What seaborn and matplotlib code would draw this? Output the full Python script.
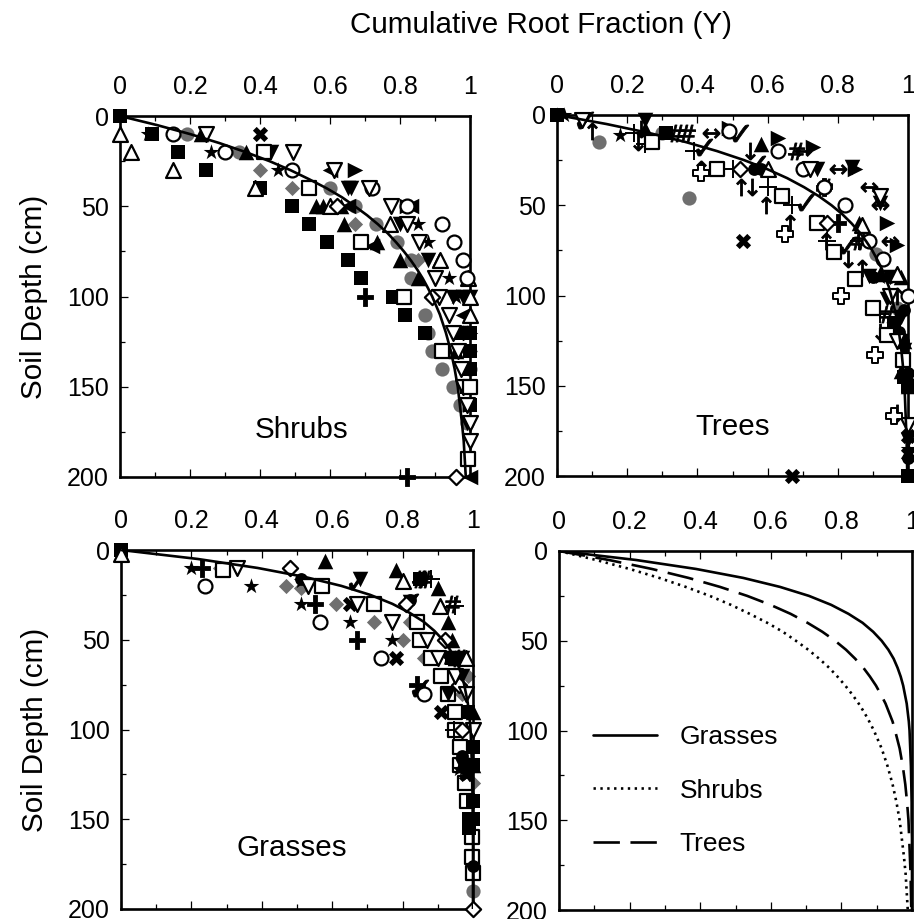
#!/usr/bin/env python3
"""
Cumulative root fraction vs soil depth, by vegetation type
"""

import matplotlib
matplotlib.use("Agg")
import matplotlib.pyplot as plt
from matplotlib.ticker import MultipleLocator, FixedLocator
import seaborn as sns

# fitted curves
CURVE_DEPTH = [0, 5, 10, 15, 20, 25, 30, 35, 40, 45, 50, 55, 60, 65, 70, 75, 80, 85, 90, 95, 100, 110, 120, 130, 140, 150, 160, 170, 180, 190, 200]
CURVE_GRASSES = [0, .218, .388, .522, .626, .708, .771, .82, .86, .89, .914, .933, .948, .959, .968, .975, .98, .985, .988, .991, .993, .995, .997, .998, .999, .999, 1, 1, 1, 1, 1]
CURVE_SHRUBS = [0, .105, .20, .284, .359, .427, .487, .54, .59, .634, .671, .706, .737, .765, .789, .811, .831, .849, .865, .879, .892, .914, .931, .945, .956, .965, .971, .977, .982, .985, .988]
CURVE_TREES = [0, .141, .263, .367, .456, .533, .599, .656, .704, .746, .782, .813, .839, .862, .881, .898, .912, .925, .935, .945, .952, .965, .974, .981, .986, .99, .992, .994, .996, .997, .998]

# observed points as (fraction, depth)
SHRUB_FILLED_SQUARE = [(0, 0), (.09, 10), (.165, 20), (.245, 30), (.40, 40), (.49, 50), (.54, 60), (.59, 70),
                       (.65, 80), (.69, 90), (.78, 100), (.815, 110), (.87, 120), (.97, 120), (.99, 120), (1, 120),
                       (1, 140), (1, 150), (.99, 150), (1, 160), (1, 130)]
SHRUB_OPEN_UP = [(0, 10), (.03, 20), (.15, 30), (.385, 40), (.60, 50), (.77, 60), (.915, 80), (.995, 90), (1, 100), (1, 110)]
SHRUB_OPEN_CIRCLE = [(.15, 10), (.30, 20), (.49, 30), (.72, 40), (.82, 50), (.92, 60), (.955, 70), (.98, 80), (.99, 90)]
SHRUB_GRAY_CIRCLE = [(.19, 10), (.34, 20), (.49, 30), (.60, 40), (.67, 50), (.73, 60), (.79, 70), (.83, 80), (.83, 90),
                     (.87, 110), (.88, 120), (.89, 130), (.92, 140), (.95, 150), (.97, 160), (.99, 170), (1, 140)]
SHRUB_OPEN_DOWN = [(.245, 10), (.495, 20), (.61, 30), (.71, 40), (.775, 50), (.82, 60), (.855, 70), (.90, 90), (.91, 100),
                   (.94, 110), (.95, 120), (.965, 130), (.975, 140), (.98, 150), (.99, 160), (1, 170), (1, 180)]
SHRUB_STAR = [(.08, 10), (.26, 20), (.45, 30), (.85, 60), (.88, 70), (.94, 90), (.96, 100), (.99, 120), (.98, 120)]
SHRUB_LEFT = [(.60, 30), (.65, 50), (.72, 72), (.83, 50), (1, 200), (.98, 110)]
SHRUB_RIGHT = [(.67, 30), (.82, 50), (1, 120)]
SHRUB_FILLED_UP = [(.23, 10), (.36, 20), (.56, 50), (.64, 60), (.735, 70), (.80, 80), (.85, 90), (.91, 80),
                   (.96, 130), (1, 110), (.58, 50), (.63, 50)]
SHRUB_FILLED_DOWN = [(.43, 20), (.66, 40), (.80, 60), (.88, 80), (.95, 100), (.98, 100), (1, 100), (.98, 120), (.99, 170), (1, 180),
                     (.65, 40)]
SHRUB_GRAY_DIAMOND = [(.40, 30), (.49, 40), (.67, 60), (.85, 80), (1, 130), (.98, 160)]
SHRUB_OPEN_SQUARE = [(.41, 20), (.54, 40), (.69, 70), (.81, 100), (.92, 130), (.995, 190), (1, 150)]
SHRUB_OPEN_DIAMOND = [(.62, 50), (.89, 100), (.96, 200)]
SHRUB_MALTESE = [(.70, 100), (.82, 200)]
SHRUB_BOWTIE = [(.40, 10)]

TREE_OPEN_SQUARE = [(.27, 15), (.455, 30), (.64, 45), (.74, 60), (.79, 76), (.85, 91), (.90, 107), (.94, 122), (.985, 136)]
TREE_GRAY_CIRCLE = [(.12, 15), (.375, 46), (.91, 77), (.97, 107), (.30, 10)]
TREE_OPEN_CIRCLE = [(.49, 9), (.63, 20), (.70, 30), (.76, 40), (.82, 50), (.89, 70), (.93, 80), (1, 100)]
TREE_ARROW_UP = [(.10, 9), (.41, 30), (.525, 40), (.595, 50), (.665, 60), (.765, 70), (.87, 85), (.97, 100)]
TREE_ARROW_DOWN = [(.23, 15), (.555, 40), (.55, 20), (.83, 80), (.92, 120), (.97, 165), (.24, 8)]
TREE_WHITE_CROSS = [(.41, 32), (.65, 66), (.81, 100), (.905, 133), (.96, 167)]
TREE_THICK_X = [(.53, 70), (.67, 200), (1, 178), (1, 188)]
TREE_RIGHT = [(.49, 7), (.63, 13), (.73, 18), (.85, 30), (.94, 60), (.97, 72)]
TREE_PLUS = [(.25, 16), (.39, 20), (.50, 30), (.60, 40), (.67, 50), (.77, 70), (.86, 70), (.92, 110), (.22, 10)]
TREE_HASH = [(.37, 10), (.68, 20), (.76, 40), (.86, 70), (.94, 110), (.34, 10)]
TREE_LEFTRIGHT = [(.44, 10), (.70, 20), (.80, 30), (.89, 40), (.92, 50), (.95, 70)]
TREE_CHECK = [(.08, 3), (.42, 18), (.52, 10), (.57, 27), (.71, 48), (.83, 72)]
TREE_FILLED_UP = [(.58, 16), (.86, 60), (.98, 90), (1, 150), (.99, 125), (.25, 8), (.92, 88), (.98, 142)]
TREE_OPEN_UP = [(.60, 30), (.87, 61), (.97, 88)]
TREE_OPEN_DOWN = [(.07, 3), (.72, 30), (.92, 45), (.95, 100), (.97, 125), (1, 172)]
TREE_FILLED_DOWN = [(.25, 3), (.74, 30), (.84, 29), (.92, 49), (.94, 102), (.98, 112), (.98, 125), (1, 180), (.89, 89), (.95, 90), (.99, 130)]
TREE_STAR = [(.18, 11), (.92, 90), (1, 185), (0, 0), (.02, 0)]
TREE_OPEN_DIAMOND = [(.52, 30), (.77, 60)]
TREE_MALTESE = [(.80, 60), (.76, 40)]
TREE_FILLED_CIRCLE = [(0, 0), (.56, 30), (.58, 30), (.82, 50), (.90, 90), (.95, 90), (.97, 90), (.99, 108), (.975, 120),
                      (.985, 125), (.99, 145), (1, 143), (1, 148), (1, 190), (1, 200)]
TREE_FILLED_SQUARE = [(0, 0), (.31, 10), (.96, 115), (1, 150), (1, 200), (.99, 145)]

GRASS_OPEN_SQUARE = [(.29, 11), (.57, 20), (.72, 30), (.84, 40), (.85, 50), (.88, 60), (.91, 70), (.93, 80), (.95, 90),
                     (.95, 100), (.963, 110), (.963, 120), (.977, 130), (.983, 140), (.997, 160), (.997, 171), (1, 180)]
GRASS_OPEN_CIRCLE = [(.24, 20), (.565, 40), (.74, 60), (.86, 80)]
GRASS_STAR = [(.20, 10), (.37, 20), (.51, 30), (.65, 40), (.77, 50), (.51, 17), (.93, 60), (.96, 122), (.975, 122), (.985, 125)]
GRASS_MALTESE = [(.23, 10), (.55, 30), (.67, 50), (.84, 75)]
GRASS_GRAY_DIAMOND = [(.28, 10), (.47, 20), (.51, 21), (.61, 30), (.72, 40), (.80, 50), (.86, 60), (.82, 40), (.985, 70), (.97, 80), (1, 130)]
GRASS_OPEN_DIAMOND = [(.48, 10), (.81, 30), (.92, 50), (.96, 75), (.97, 100), (1, 200)]
GRASS_OPEN_DOWN = [(.33, 10), (.53, 20), (.67, 30), (.77, 40), (.87, 50), (.90, 60), (.95, 70), (.98, 80), (1, 100)]
GRASS_THICK_X = [(.65, 30), (.78, 60), (.91, 90), (.96, 60), (.98, 125)]
GRASS_FILLED_UP = [(.58, 6), (.78, 11), (.90, 21), (.93, 40), (.94, 50), (1, 90), (1, 120), (.95, 60), (.97, 120)]
GRASS_OPEN_UP = [(0, 2), (.80, 17), (.905, 31), (.98, 60)]
GRASS_FILLED_DOWN = [(.68, 16), (.82, 29), (.93, 60), (.97, 60), (.97, 70), (.93, 80), (.97, 120), (1, 100), (.99, 125)]
GRASS_CHECK = [(.67, 17), (.82, 29), (.85, 77)]
GRASS_HASH = [(.85, 16), (.94, 30), (.96, 60), (.86, 16)]
GRASS_PLUS = [(.88, 16), (.95, 31), (.945, 100)]
GRASS_FILLED_SQUARE = [(0, 0), (.85, 16), (1, 110), (1, 120), (1, 140), (.99, 150), (1, 150), (.94, 60), (.985, 90), (.99, 155)]
GRASS_GRAY_CIRCLE = [(1, 190), (1, 176), (.99, 150)]
GRASS_FILLED_CIRCLE = [(.51, 16), (.82, 28), (1, 176), (.97, 115), (.95, 60)]

GRAY = "#6f6f6f"
TICK_SIZE = 18
LABEL_SIZE = 21.3
LEGEND_SIZE = 19


def draw_points(ax, points, style):
    x = [p[0] for p in points]
    y = [p[1] for p in points]
    if style in ("s", "^", "v", "<", ">", "*", "X"):
        size = {"s": 105, "*": 140, "X": 120}.get(style, 125)
        sns.scatterplot(x=x, y=y, marker=style, color="black", s=size, linewidth=0, clip_on=False, zorder=3, ax=ax)
    elif style == "filled_circle":
        sns.scatterplot(x=x, y=y, marker="o", color="black", s=85, linewidth=0, clip_on=False, zorder=3, ax=ax)
    elif style.startswith("open_"):
        shape = style[5:]
        size = {"D": 60, "o": 100}.get(shape, 115)
        sns.scatterplot(x=x, y=y, marker=shape, color="white", edgecolor="black", s=size,
                        linewidth=1.6, clip_on=False, zorder=4, ax=ax)
    elif style.startswith("gray_"):
        shape = style[5:]
        sns.scatterplot(x=x, y=y, marker=shape, color=GRAY, s=105 if shape == "o" else 60,
                        linewidth=0, clip_on=False, zorder=2, ax=ax)
    elif style == "white_cross":
        sns.scatterplot(x=x, y=y, marker="P", color="white", edgecolor="black", s=140, linewidth=1.4,
                        clip_on=False, zorder=4, ax=ax)
    elif style == "+":
        sns.scatterplot(x=x, y=y, marker="+", color="black", s=150, linewidth=1.4, clip_on=False, zorder=3, ax=ax)
    else:
        sns.scatterplot(x=x, y=y, marker=style, color="black", edgecolor="black", s=150, linewidth=0.6,
                        clip_on=False, zorder=3, ax=ax)


def style_axes(ax):
    ax.set_xlim(0, 1)
    ax.set_ylim(200, 0)
    ax.set_xlabel("")
    ax.set_ylabel("")
    ax.xaxis.set_major_locator(FixedLocator([0, .2, .4, .6, .8, 1]))
    ax.set_xticklabels(["0", "0.2", "0.4", "0.6", "0.8", "1"])
    ax.xaxis.set_minor_locator(MultipleLocator(.1))
    ax.yaxis.set_major_locator(MultipleLocator(50))
    ax.yaxis.set_minor_locator(MultipleLocator(25))
    ax.tick_params(axis="x", which="both", direction="in", top=True, bottom=True, labeltop=True, labelbottom=False)
    ax.tick_params(axis="x", which="major", length=6, width=0.9, pad=12, labelsize=TICK_SIZE)
    ax.tick_params(axis="x", which="minor", length=3.5, width=0.9)
    ax.tick_params(axis="y", which="both", direction="in", left=True, right=False)
    ax.tick_params(axis="y", which="major", length=6, width=0.9, pad=8, labelsize=TICK_SIZE)
    ax.tick_params(axis="y", which="minor", length=3.5, width=0.9)
    for side in ax.spines:
        ax.spines[side].set_linewidth(1.9)
        ax.spines[side].set_color("black")


def make_axes(fig, left, right, top, bottom):
    w, h = fig.get_size_inches() * fig.dpi
    return fig.add_axes([left / w, 1 - bottom / h, (right - left) / w, (bottom - top) / h])


def draw_curve(ax, values, **kwargs):
    sns.lineplot(x=values, y=CURVE_DEPTH, estimator=None, sort=False, orient="y", color="black", ax=ax, **kwargs)


sns.set_style("white")
plt.rcParams["font.family"] = ["Liberation Sans", "DejaVu Sans"]
plt.rcParams["mathtext.fontset"] = "dejavusans"
plt.rcParams["text.color"] = "black"
plt.rcParams["axes.labelcolor"] = "black"
plt.rcParams["xtick.color"] = "black"
plt.rcParams["ytick.color"] = "black"

fig = plt.figure(figsize=(9.14, 9.19), dpi=100)

ax_shrubs = make_axes(fig, 120, 470, 116, 477)
ax_trees = make_axes(fig, 557, 908, 115, 476)
ax_grasses = make_axes(fig, 121, 473, 550, 909)
ax_all = make_axes(fig, 559, 912, 551, 910)

UP = "$\u2191$"
DOWN = "$\u2193$"
LR = "$\u2194$"
CHECK = "$\u2713$"
HASH = "$\\#$"
CROSS = "$\u271a$"

shrub_series = [
    (SHRUB_GRAY_CIRCLE, "gray_o"), (SHRUB_GRAY_DIAMOND, "gray_D"), (SHRUB_FILLED_SQUARE, "s"),
    (SHRUB_STAR, "*"), (SHRUB_LEFT, "<"), (SHRUB_RIGHT, ">"), (SHRUB_FILLED_UP, "^"), (SHRUB_FILLED_DOWN, "v"),
    (SHRUB_MALTESE, CROSS), (SHRUB_BOWTIE, "X"), (SHRUB_OPEN_UP, "open_^"), (SHRUB_OPEN_CIRCLE, "open_o"),
    (SHRUB_OPEN_DOWN, "open_v"), (SHRUB_OPEN_SQUARE, "open_s"), (SHRUB_OPEN_DIAMOND, "open_D"),
]
tree_series = [
    (TREE_GRAY_CIRCLE, "gray_o"), (TREE_FILLED_SQUARE, "s"), (TREE_FILLED_CIRCLE, "filled_circle"),
    (TREE_THICK_X, "X"), (TREE_RIGHT, ">"), (TREE_FILLED_UP, "^"), (TREE_FILLED_DOWN, "v"), (TREE_STAR, "*"),
    (TREE_OPEN_SQUARE, "open_s"), (TREE_OPEN_CIRCLE, "open_o"), (TREE_OPEN_UP, "open_^"), (TREE_OPEN_DOWN, "open_v"),
    (TREE_OPEN_DIAMOND, "open_D"), (TREE_WHITE_CROSS, "white_cross"), (TREE_ARROW_UP, UP), (TREE_ARROW_DOWN, DOWN),
    (TREE_PLUS, "+"), (TREE_HASH, HASH), (TREE_LEFTRIGHT, LR), (TREE_CHECK, CHECK), (TREE_MALTESE, CROSS),
]
grass_series = [
    (GRASS_GRAY_DIAMOND, "gray_D"), (GRASS_GRAY_CIRCLE, "gray_o"), (GRASS_OPEN_SQUARE, "open_s"),
    (GRASS_FILLED_SQUARE, "s"), (GRASS_STAR, "*"), (GRASS_THICK_X, "X"), (GRASS_FILLED_UP, "^"), (GRASS_FILLED_DOWN, "v"),
    (GRASS_FILLED_CIRCLE, "filled_circle"), (GRASS_OPEN_CIRCLE, "open_o"),
    (GRASS_OPEN_DIAMOND, "open_D"), (GRASS_OPEN_DOWN, "open_v"), (GRASS_OPEN_UP, "open_^"),
    (GRASS_MALTESE, CROSS), (GRASS_CHECK, CHECK), (GRASS_HASH, HASH), (GRASS_PLUS, "+"),
]

draw_curve(ax_shrubs, CURVE_SHRUBS, linewidth=1.9, zorder=5)
draw_curve(ax_trees, CURVE_TREES, linewidth=1.9, zorder=5)
draw_curve(ax_grasses, CURVE_GRASSES, linewidth=1.9, zorder=5)

for pts, st in shrub_series:
    draw_points(ax_shrubs, pts, st)
for pts, st in tree_series:
    draw_points(ax_trees, pts, st)
for pts, st in grass_series:
    if st == "open_s":
        # these sit behind the filled cluster near the right edge
        sns.scatterplot(x=[p[0] for p in pts], y=[p[1] for p in pts], marker="s", color="white", edgecolor="black",
                        s=115, linewidth=1.6, clip_on=False, zorder=2.5, ax=ax_grasses)
    else:
        draw_points(ax_grasses, pts, st)

draw_curve(ax_all, CURVE_GRASSES, linewidth=1.9, linestyle="-", label="Grasses")
draw_curve(ax_all, CURVE_SHRUBS, linewidth=1.9, linestyle=(0, (0.9, 1.7)), label="Shrubs")
draw_curve(ax_all, CURVE_TREES, linewidth=1.9, linestyle=(0, (10, 4)), label="Trees")

for ax in [ax_shrubs, ax_trees, ax_grasses, ax_all]:
    style_axes(ax)

ax_shrubs.text(.52, 174, "Shrubs", ha="center", va="center", fontsize=LABEL_SIZE)
ax_trees.text(.50, 173, "Trees", ha="center", va="center", fontsize=LABEL_SIZE)
ax_grasses.text(.486, 166, "Grasses", ha="center", va="center", fontsize=LABEL_SIZE)

for ax in [ax_shrubs, ax_grasses]:
    ax.set_ylabel("Soil Depth (cm)", fontsize=LABEL_SIZE)
    ax.yaxis.set_label_coords(-0.205, 0.5)

ax_all.legend(frameon=False, fontsize=LEGEND_SIZE, loc="upper left", bbox_to_anchor=(0.096, 0.516),
              borderaxespad=0, borderpad=0, handlelength=2.42, handletextpad=0.87, labelspacing=1.13)

fig.text(541 / 914, 1 - 25 / 919, "Cumulative Root Fraction (Y)", ha="center", va="center", fontsize=LABEL_SIZE)

fig.savefig("out.png", dpi=100)
plt.close(fig)
